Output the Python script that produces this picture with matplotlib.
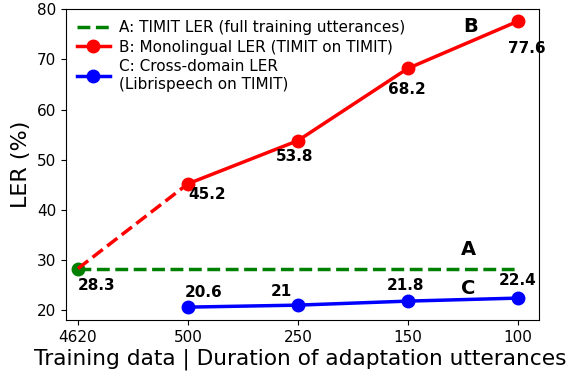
import numpy as np
import matplotlib.pyplot as plt

# x categories (equally spaced)
durations = ['4620', '500', '250', '150', '100']
timit_full = 28.3
mono_ler = [28.3, 45.2, 53.8, 68.2, 77.6]
cross_ler = [20.6, 21, 21.8, 22.4]

x = np.arange(len(durations))

fig, ax = plt.subplots(figsize=(5.73, 3.71), dpi=100)
fig.subplots_adjust(left=0.115, right=0.94, top=0.975, bottom=0.137)

# A: full training baseline
ax.plot(x, [timit_full] * len(x), color='green', linestyle='--', linewidth=2.5,
        label='A: TIMIT LER (full training utterances)')
ax.plot(x[0], timit_full, 'o', color='green', markersize=9)

# B: monolingual (dashed first segment)
ax.plot(x[:2], mono_ler[:2], color='red', linestyle='--', linewidth=2.5)
ax.plot(x[1:], mono_ler[1:], color='red', marker='o', markersize=9, linewidth=2.5,
        label='B: Monolingual LER (TIMIT on TIMIT)')

# C: cross-domain
ax.plot(x[1:], cross_ler, color='blue', marker='o', markersize=9, linewidth=2.5,
        label='C: Cross-domain LER\n(Librispeech on TIMIT)')

# value labels (offsets in pixels)
mono_off = [(0, -17), (0, -11), (-22, -16), (-20, -21), (-10, -27)]
for xi, v, off in zip(x, mono_ler, mono_off):
    ax.annotate(str(v), (xi, v), xytext=off, textcoords='offset pixels',
                ha='left', va='center', fontsize=11, fontweight='bold')
cross_off = [(16, 15), (-16, 14), (-2, 16), (0, 18)]
for xi, v, off in zip(x[1:], cross_ler, cross_off):
    ax.annotate(str(v), (xi, v), xytext=off, textcoords='offset pixels',
                ha='center', va='center', fontsize=11, fontweight='bold')

ax.text(3.55, 32.0, 'A', fontsize=14, fontweight='bold', ha='center', va='center')
ax.text(3.57, 76.5, 'B', fontsize=14, fontweight='bold', ha='center', va='center')
ax.text(3.55, 24.3, 'C', fontsize=14, fontweight='bold', ha='center', va='center')

ax.set_xticks(x)
ax.set_xticklabels(durations, fontsize=11)
ax.set_yticks([20, 30, 40, 50, 60, 70, 80])
ax.tick_params(axis='y', labelsize=11)
ax.set_xlim(-0.11, 4.19)
ax.set_ylim(18, 80)
ax.set_xlabel('Training data | Duration of adaptation utterances', fontsize=15.6, labelpad=1)
ax.xaxis.set_label_coords(0.495, -0.09)
ax.set_ylabel('LER (%)', fontsize=16)
ax.legend(loc='upper left', frameon=False, fontsize=11, handlelength=2.2,
          borderaxespad=0.3, labelspacing=0.3, handletextpad=0.6)

plt.savefig('out.png')
